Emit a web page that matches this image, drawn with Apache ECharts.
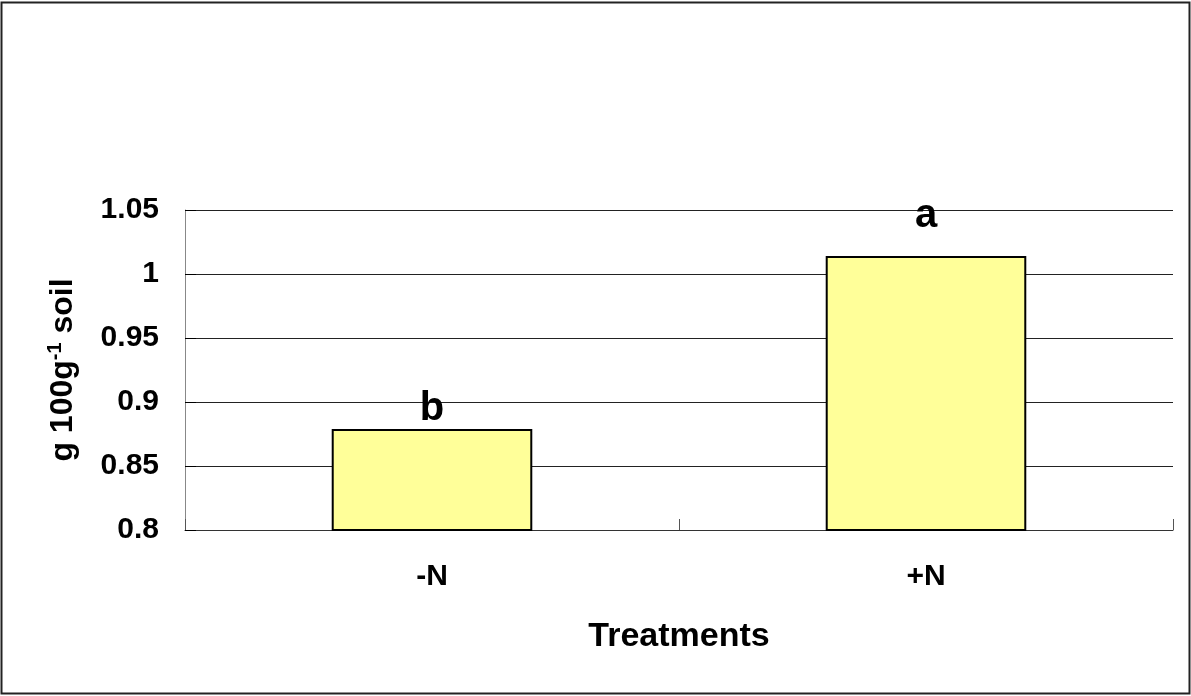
<!DOCTYPE html>
<html><head><meta charset="utf-8">
<script src="https://cdn.jsdelivr.net/npm/echarts@6/dist/echarts.min.js"></script>
<style>html,body{margin:0;padding:0;background:#fff}#c{width:1191px;height:696px}</style>
</head><body><div id="c"></div>
<script>
const categories = ['-N', '+N'];
const values = [0.879, 1.014];
const letters = ['b', 'a'];
const yTickLabels = ['0.8', '0.85', '0.9', '0.95', '1', '1.05'];
const yMin = 0.8, yMax = 1.05, yStep = 0.05;

const FONT = '"Liberation Sans", Arial, sans-serif';
const chart = echarts.init(document.getElementById('c'));
chart.setOption({
  animation: false,
  backgroundColor: '#fff',
  grid: { left: 185, right: 18, top: 210, bottom: 166, containLabel: false },
  graphic: [{
    type: 'rect', silent: true,
    shape: { x: 1.5, y: 2.5, width: 1188, height: 691 },
    style: { fill: 'none', stroke: '#222', lineWidth: 2 }
  }],
  xAxis: {
    type: 'category', data: categories,
    name: 'Treatments', nameLocation: 'middle', nameGap: 90,
    nameTextStyle: { fontFamily: FONT, fontWeight: 'bold', fontSize: 34, color: '#000' },
    axisLine: { lineStyle: { color: '#333', width: 1 } },
    axisTick: { show: true, inside: true, length: 11, lineStyle: { color: '#555' } },
    axisLabel: { fontFamily: FONT, fontWeight: 'bold', fontSize: 30, color: '#000', margin: 32 }
  },
  yAxis: {
    type: 'value', min: yMin, max: yMax, interval: yStep,
    name: 'g 100g{sup|-1} soil', nameLocation: 'middle', nameGap: 104, nameRotate: 90,
    nameTextStyle: { fontFamily: FONT, fontWeight: 'bold', fontSize: 32, color: '#000',
      rich: { sup: { fontFamily: FONT, fontWeight: 'bold', fontSize: 20, color: '#000', padding: [0, 0, 16, 0] } } },
    axisLine: { show: true, lineStyle: { color: '#888', width: 1 } },
    axisTick: { show: true, inside: true, length: 11, lineStyle: { color: '#000' } },
    axisLabel: { fontFamily: FONT, fontWeight: 'bold', fontSize: 30, color: '#000', margin: 26,
      formatter: (v, i) => yTickLabels[Math.round((v - yMin) / yStep)] },
    splitLine: { show: true, lineStyle: { color: '#222', width: 1 } }
  },
  series: [{
    type: 'bar', barWidth: '40.6%',
    data: values.map((v, i) => ({
      value: v,
      label: { show: true, position: 'top', distance: i === 0 ? 0 : 20, formatter: letters[i],
        fontFamily: FONT, fontWeight: 'bold', fontSize: 40, color: '#000' }
    })),
    itemStyle: { color: '#FFFF99', borderColor: '#000', borderWidth: 2 }
  }]
});
</script></body></html>
